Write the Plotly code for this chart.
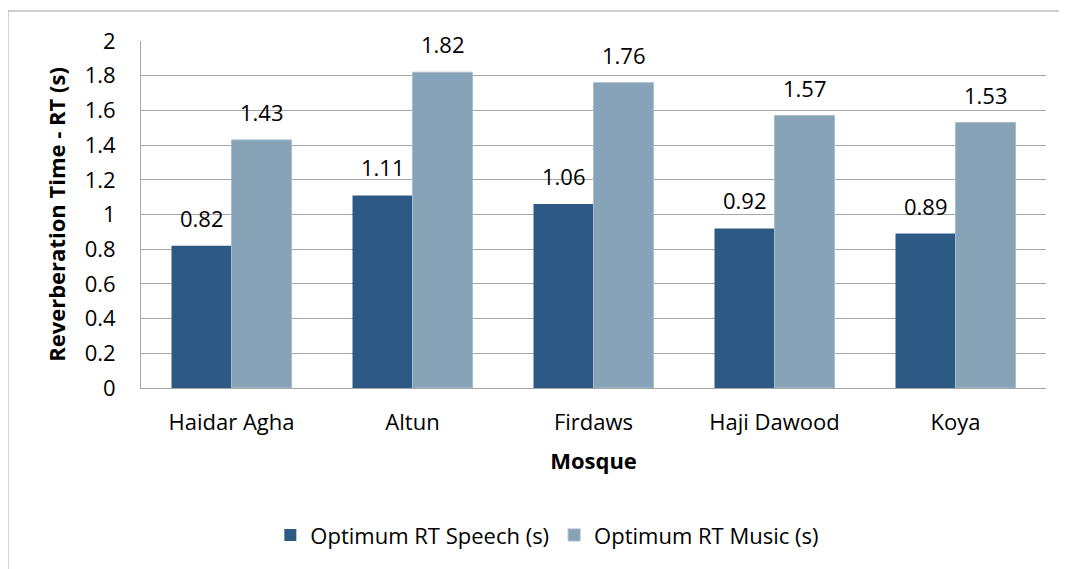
import plotly.graph_objects as go

mosques = ["Haidar Agha", "Altun", "Firdaws", "Haji Dawood", "Koya"]
speech_rt = [0.82, 1.11, 1.06, 0.92, 0.89]
music_rt = [1.43, 1.82, 1.76, 1.57, 1.53]
y_ticks = [0, 0.2, 0.4, 0.6, 0.8, 1, 1.2, 1.4, 1.6, 1.8, 2]
y_tick_labels = ["0", "0.2", "0.4", "0.6", "0.8", "1", "1.2", "1.4", "1.6", "1.8", "2"]

FONT = "Open Sans"
FS = 22
GRID = "#A6A6A6"

fig = go.Figure()
fig.add_trace(go.Bar(x=mosques, y=speech_rt, name="Optimum RT Speech (s)",
                     marker=dict(color="#2D5A84", line=dict(width=0))))
fig.add_trace(go.Bar(x=mosques, y=music_rt, name="Optimum RT Music (s)",
                     marker=dict(color="#87A3B8", line=dict(color="#A9BCCB", width=1))))

# data labels above each bar
for i, m in enumerate(mosques):
    for vals, shift in ((speech_rt, -30), (music_rt, 30)):
        fig.add_annotation(x=m, y=vals[i], text=f"{vals[i]:.2f}", showarrow=False,
                           xshift=shift, yshift=11, yanchor="bottom",
                           font=dict(family=FONT, size=FS, color="#000"))

# outer chart border (left and top only visible)
fig.add_shape(type="line", xref="paper", yref="paper", x0=-0.147, x1=1.05,
              y0=1.0865, y1=1.0865, line=dict(color="#A0A0A0", width=1))
fig.add_shape(type="line", xref="paper", yref="paper", x0=-0.147, x1=-0.147,
              y0=1.0865, y1=-0.6, line=dict(color="#A0A0A0", width=1))

fig.update_layout(
    width=1067, height=569,
    margin=dict(l=133, r=29, t=33, b=189),
    paper_bgcolor="white", plot_bgcolor="white",
    barmode="group", bargap=0.337, bargroupgap=0,
    font=dict(family=FONT, size=FS, color="#000"),
    showlegend=True,
    legend=dict(orientation="h", x=0.449, xanchor="center", y=-0.424, yanchor="middle",
                font=dict(family=FONT, size=FS), itemwidth=30, traceorder="normal"),
    xaxis=dict(showline=True, linecolor=GRID, linewidth=1, ticks="", automargin=False,
               tickfont=dict(family=FONT, size=FS), ticklabelstandoff=15,
               title=dict(text="<b>Mosque</b>", font=dict(family=FONT, size=FS), standoff=18)),
    yaxis=dict(range=[0, 2], tickvals=y_ticks, ticktext=y_tick_labels,
               showgrid=True, gridcolor=GRID, gridwidth=1, automargin=False,
               showline=True, linecolor=GRID, linewidth=1, zeroline=False,
               ticks="", ticklabelstandoff=20,
               tickfont=dict(family=FONT, size=FS),
               title=dict(text="<b>Reverberation Time - RT (s)</b>",
                          font=dict(family=FONT, size=FS), standoff=12)),
)

fig.write_html("out.html")
